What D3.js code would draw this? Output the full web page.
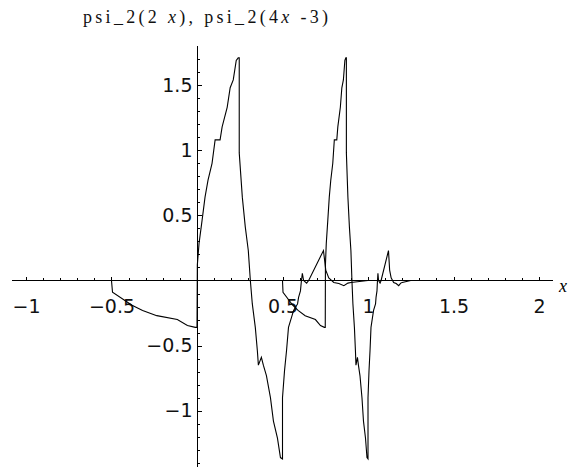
<!DOCTYPE html>
<html>
<head>
<meta charset="utf-8">
<script src="https://cdn.jsdelivr.net/npm/d3@7"></script>
<style>
  body { margin: 0; background: #fff; }
  svg { display: block; }
</style>
</head>
<body>
<div id="chart"></div>
<script>
// samples of psi_2(t), t in [-1, 2]
var psiT = [-1, -0.988, -0.76, -0.636, -0.47, -0.23, -0.112, -0.02, 0, 0.004, 0.024, 0.059, 0.094, 0.129, 0.176, 0.212, 0.27, 0.294, 0.353, 0.388, 0.424, 0.459, 0.482, 0.494, 0.494, 0.53, 0.565, 0.6, 0.624, 0.647, 0.682, 0.706, 0.718, 0.753, 0.776, 0.812, 0.859, 0.894, 0.941, 0.976, 1.0, 1.0, 1.024, 1.047, 1.07, 1.13, 1.176, 1.188, 1.21, 1.22, 1.232, 1.247, 1.282, 1.306, 1.479, 1.506, 1.541, 1.6, 1.659, 1.718, 1.765, 1.8, 2.0];
var psiV = [0, -0.09, -0.19, -0.23, -0.27, -0.30, -0.346, -0.36, -0.36, 0.12, 0.285, 0.46, 0.64, 0.77, 0.90, 1.08, 1.08, 1.18, 1.33, 1.48, 1.54, 1.69, 1.71, 1.71, 0.98, 0.64, 0.41, 0.23, 0, -0.18, -0.36, -0.54, -0.65, -0.59, -0.65, -0.73, -0.90, -1.08, -1.21, -1.36, -1.37, -0.90, -0.69, -0.54, -0.36, -0.23, -0.18, -0.13, -0.08, -0.01, 0.055, 0, -0.02, 0, 0.23, 0.08, 0.02, -0.015, -0.023, -0.04, -0.02, -0.015, 0];

var xDomain = [-1.08, 2.08];
var yDomain = [-1.43, 1.80];
var xMajor = [-1, -0.5, 0.5, 1, 1.5, 2];
var yMajor = [-1, -0.5, 0.5, 1, 1.5];
var titleParts = ["psi_2(2 ", "x", "),  psi_2(4", "x", " -3)"];
var axisLabel = "x";

var width = 569, height = 467;

var svg = d3.select('#chart')
    .append('svg')
    .attr('width', width)
    .attr('height', height);

var x = d3.scaleLinear().domain(xDomain).range([12.3, 552.7]);
var y = d3.scaleLinear().domain(yDomain).range([466.7, 46.1]);

var fmt = d3.format('~g');
var x0 = Math.round(x(0)) + 0.5;
var y0 = Math.round(y(0)) + 0.5;

// minor ticks every 0.1
var xMinor = d3.range(-10, 21).map(d => d / 10).filter(d => d !== 0 && xMajor.indexOf(d) === -1);
var yMinor = d3.range(-14, 18).map(d => d / 10).filter(d => d !== 0 && yMajor.indexOf(d) === -1);

function styleAxis(g) {
    g.select('.domain').remove();
    g.selectAll('line').attr('stroke', '#000').attr('shape-rendering', 'crispEdges');
    g.selectAll('text')
        .attr('fill', '#111')
        .attr('font-family', 'DejaVu Sans, sans-serif')
        .attr('font-size', 19);
}

svg.append('g')
    .attr('transform', 'translate(0,' + y0 + ')')
    .call(d3.axisBottom(x).tickValues(xMinor).tickSize(-2.5).tickFormat(''))
    .call(styleAxis);

svg.append('g')
    .attr('transform', 'translate(0,' + y0 + ')')
    .call(d3.axisBottom(x).tickValues(xMajor).tickSizeInner(-4).tickSizeOuter(0).tickPadding(19).tickFormat(fmt))
    .call(styleAxis);

svg.append('g')
    .attr('transform', 'translate(' + x0 + ',0)')
    .call(d3.axisLeft(y).tickValues(yMinor).tickSize(-2.5).tickFormat(''))
    .call(styleAxis);

svg.append('g')
    .attr('transform', 'translate(' + x0 + ',0)')
    .call(d3.axisLeft(y).tickValues(yMajor).tickSizeInner(-4).tickSizeOuter(0).tickPadding(5).tickFormat(fmt))
    .call(styleAxis);

// axis lines
svg.append('line')
    .attr('x1', x(xDomain[0])).attr('x2', x(xDomain[1]))
    .attr('y1', y0).attr('y2', y0)
    .attr('stroke', '#000').attr('shape-rendering', 'crispEdges');

svg.append('line')
    .attr('x1', x0).attr('x2', x0)
    .attr('y1', y(yDomain[1])).attr('y2', y(yDomain[0]))
    .attr('stroke', '#000').attr('shape-rendering', 'crispEdges');

// psi_2(2x): x = t/2 ; psi_2(4x-3): x = (t+3)/4
var curves = [
    psiT.map((t, i) => ({x: t / 2, y: psiV[i]})),
    psiT.map((t, i) => ({x: (t + 3) / 4, y: psiV[i]}))
];

var line = d3.line()
    .x(d => x(d.x))
    .y(d => y(d.y))
    .curve(d3.curveLinear);

svg.selectAll('path.curve')
    .data(curves)
    .enter()
    .append('path')
    .attr('class', 'curve')
    .attr('d', line)
    .attr('fill', 'none')
    .attr('stroke', '#000')
    .attr('stroke-width', 1.1)
    .attr('stroke-linejoin', 'miter');

// axis label
svg.append('text')
    .attr('x', 559)
    .attr('y', 292)
    .attr('font-family', 'Liberation Serif, serif')
    .attr('font-style', 'italic')
    .attr('font-size', 18)
    .text(axisLabel);

// title
var title = svg.append('text')
    .attr('x', 83)
    .attr('y', 23)
    .attr('font-family', 'Liberation Serif, serif')
    .attr('font-size', 18)
    .attr('fill', '#111')
    .attr('textLength', 245)
    .attr('lengthAdjust', 'spacing');

title.selectAll('tspan')
    .data(titleParts)
    .enter()
    .append('tspan')
    .attr('font-style', (d, i) => i % 2 === 1 ? 'italic' : 'normal')
    .text(d => d);
</script>
</body>
</html>
